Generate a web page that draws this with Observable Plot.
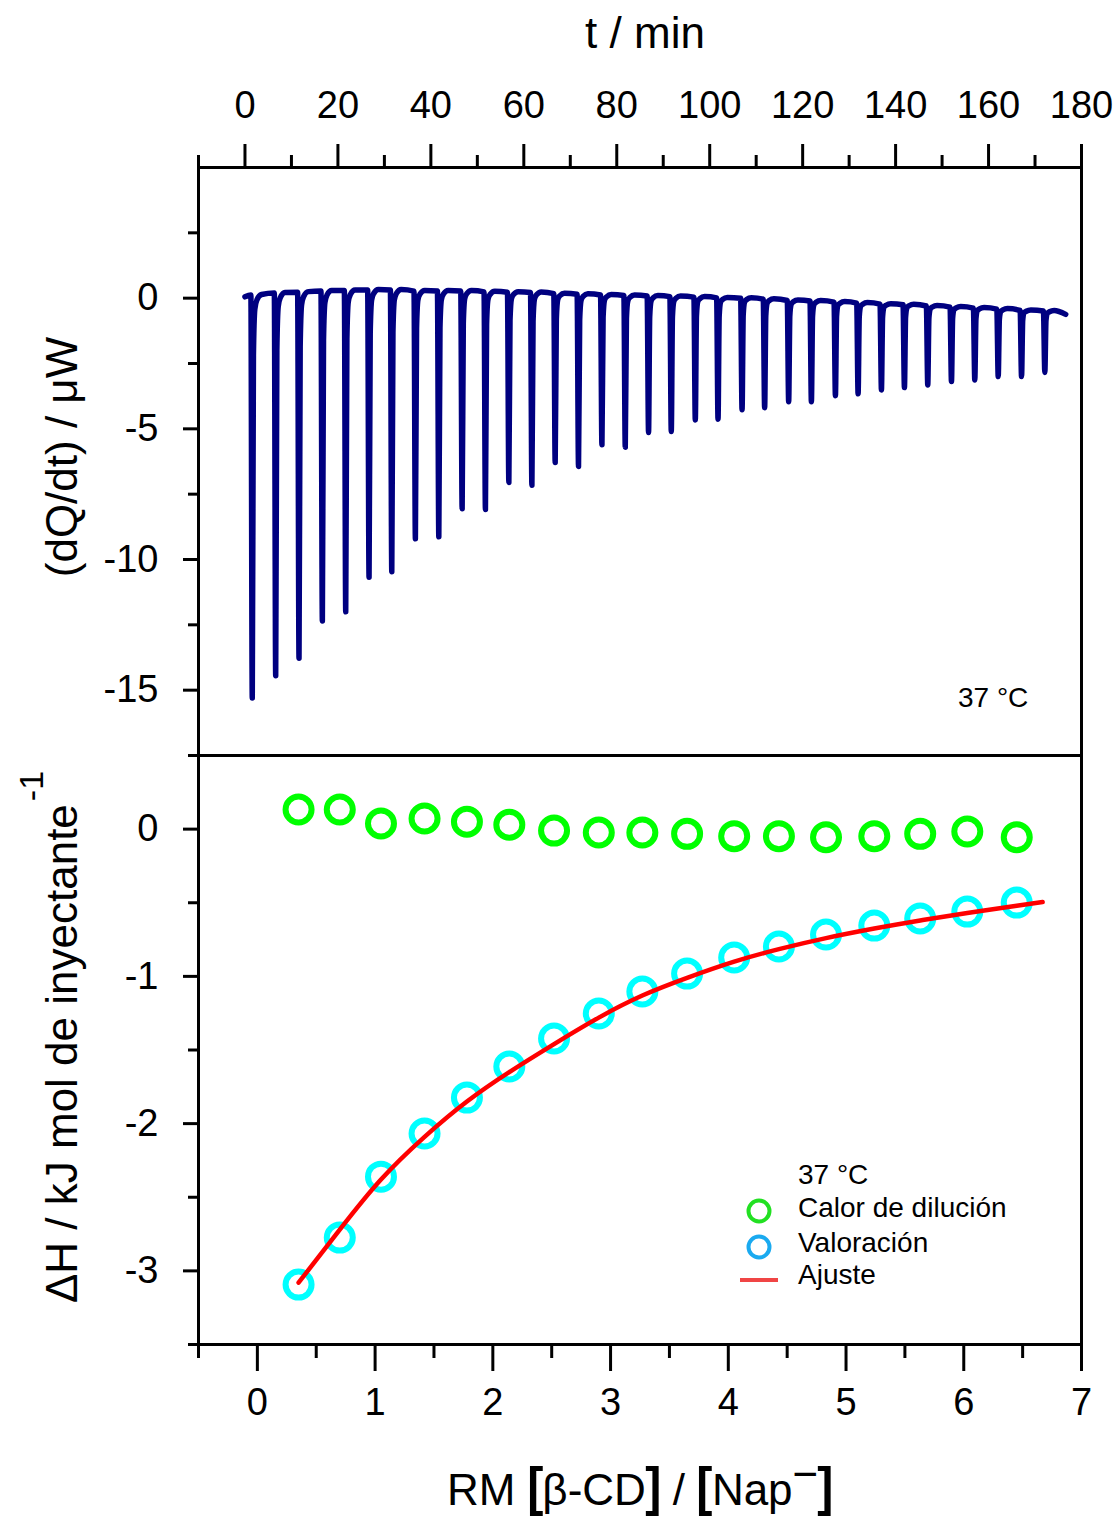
<!DOCTYPE html>
<html>
<head>
<meta charset="utf-8">
<script src="https://cdn.jsdelivr.net/npm/d3@7"></script>
<script src="https://cdn.jsdelivr.net/npm/@observablehq/plot@0.6"></script>
<style>
  body { margin: 0; background: #fff; }
  #wrap { position: relative; width: 1120px; height: 1519px; font-family: "Liberation Sans", Arial, sans-serif; color: #000; overflow: hidden; }
  .t { position: absolute; white-space: nowrap; }
  .plot-svg { position: absolute; left: 0; }
</style>
</head>
<body>
<div id="wrap"></div>
<script>
// ---------- Top panel: thermogram ----------
const injTime = [1.57, 6.61, 11.63, 16.65, 21.68, 26.70, 31.59, 36.67, 41.71, 46.73,
  51.74, 56.78, 61.74, 66.75, 71.77, 76.81, 81.83, 86.84, 91.73, 96.90,
  101.79, 106.96, 111.82, 116.99, 121.88, 127.05, 131.93, 136.95, 141.90, 146.92,
  152.02, 157.04, 162.08, 167.10, 172.11];
const injMin = [-15.3, -14.45, -13.78, -12.35, -12.0, -10.68, -10.47, -9.21, -9.13, -8.06,
  -8.09, -7.05, -7.16, -6.29, -6.44, -5.61, -5.70, -5.14, -5.10, -4.66,
  -4.63, -4.27, -4.19, -3.96, -3.96, -3.73, -3.66, -3.51, -3.42, -3.32,
  -3.19, -3.13, -3.0, -3.0, -2.84];
const injBase = [0.12, 0.2, 0.23, 0.27, 0.29, 0.31, 0.31, 0.27, 0.27, 0.27,
  0.24, 0.23, 0.22, 0.17, 0.15, 0.12, 0.1, 0.08, 0.06, 0.04,
  0.01, 0.0, -0.04, -0.09, -0.11, -0.15, -0.19, -0.23, -0.25, -0.3,
  -0.34, -0.38, -0.42, -0.47, -0.49];
const traceStart = {t: 0, v: 0.05};
const traceEnd = {t: 176.6, v: -0.62};

// ---------- Bottom panel: heats ----------
const molarRatio = [0.35, 0.70, 1.05, 1.42, 1.78, 2.14, 2.52, 2.90, 3.27, 3.65, 4.05, 4.43, 4.83, 5.24, 5.63, 6.03, 6.45];
const dilutionHeat = [0.133, 0.133, 0.038, 0.072, 0.05, 0.03, -0.01, -0.023, -0.023, -0.032, -0.048, -0.048, -0.055, -0.048, -0.032, -0.016, -0.055];
const titrationHeat = [-3.093, -2.774, -2.36, -2.067, -1.823, -1.612, -1.422, -1.252, -1.103, -0.981, -0.872, -0.797, -0.716, -0.655, -0.607, -0.56, -0.499];
const fitRatio = [0.35, 0.70, 1.05, 1.42, 1.78, 2.14, 2.52, 2.90, 3.27, 3.65, 4.05, 4.43, 4.83, 5.24, 5.63, 6.03, 6.45, 6.67];
const fitHeat = [-3.08, -2.72, -2.38, -2.09, -1.85, -1.65, -1.46, -1.28, -1.13, -1.01, -0.90, -0.815, -0.74, -0.675, -0.62, -0.57, -0.52, -0.495];

// ---------- Ticks ----------
const timeMajor = [0, 20, 40, 60, 80, 100, 120, 140, 160, 180];
const timeMinor = [-10, 10, 30, 50, 70, 90, 110, 130, 150, 170];
const powerMajor = [0, -5, -10, -15];
const powerMinor = [2.5, -2.5, -7.5, -12.5];
const ratioMajor = [0, 1, 2, 3, 4, 5, 6, 7];
const ratioMinor = [-0.5, 0.5, 1.5, 2.5, 3.5, 4.5, 5.5, 6.5];
const heatMajor = [0, -1, -2, -3];
const heatMinor = [0.5, -0.5, -1.5, -2.5, -3.5];

// ---------- Build tables ----------
const trace = [traceStart];
injTime.forEach((t, i) => {
  const b = injBase[i], d = injMin[i] - b;
  trace.push({t: t - 0.3, v: b});
  trace.push({t: t, v: injMin[i]});
  trace.push({t: t + 0.25, v: b + 0.15 * d});
  trace.push({t: t + 0.55, v: b + 0.035 * d});
  trace.push({t: t + 1.0, v: b + 0.012 * d});
  trace.push({t: t + 2.0, v: b + 0.02});
});
trace.push(traceEnd);

const dilution = molarRatio.map((r, i) => ({r, h: dilutionHeat[i]}));
const titration = molarRatio.map((r, i) => ({r, h: titrationHeat[i]}));
const fit = fitRatio.map((r, i) => ({r, h: fitHeat[i]}));

const fmt = d => String(d);
const blank = () => "";
const FONT = "'Liberation Sans', Arial, sans-serif";
const TICKFS = 38;

const wrap = document.getElementById("wrap");

const topPlot = Plot.plot({
  width: 1120, height: 757,
  marginLeft: 198, marginRight: 39, marginTop: 167, marginBottom: 2,
  style: {fontFamily: FONT, fontSize: TICKFS + "px", overflow: "visible", background: "transparent", color: "#000"},
  x: {domain: [-10, 180]},
  y: {domain: [-17.5, 5]},
  marks: [
    Plot.axisX(timeMajor, {anchor: "top", tickSize: 24, tickPadding: 26, tickFormat: fmt, strokeWidth: 3, fontSize: TICKFS, label: null}),
    Plot.axisX(timeMinor, {anchor: "top", tickSize: 13, tickFormat: blank, strokeWidth: 3, label: null}),
    Plot.axisY(powerMajor, {anchor: "left", tickSize: 15, tickPadding: 25, tickFormat: fmt, strokeWidth: 3, fontSize: TICKFS, label: null}),
    Plot.axisY(powerMinor, {anchor: "left", tickSize: 10, tickFormat: blank, strokeWidth: 3, label: null}),
    Plot.line(trace, {x: "t", y: "v", stroke: "#000080", strokeWidth: 5.5, curve: "monotone-x", strokeLinejoin: "round", strokeLinecap: "round"}),
    Plot.frame({stroke: "#000", strokeWidth: 3})
  ]
});
topPlot.classList.add("plot-svg");
topPlot.style.top = "0px";
wrap.appendChild(topPlot);

const bottomPlot = Plot.plot({
  width: 1120, height: 766,
  marginLeft: 198, marginRight: 39, marginTop: 2, marginBottom: 175,
  style: {fontFamily: FONT, fontSize: TICKFS + "px", overflow: "visible", background: "transparent", color: "#000"},
  x: {domain: [-0.5, 7]},
  y: {domain: [-3.5, 0.5]},
  marks: [
    Plot.axisX(ratioMajor, {anchor: "bottom", tickSize: 27, tickPadding: 17, tickFormat: fmt, strokeWidth: 3, fontSize: TICKFS, label: null}),
    Plot.axisX(ratioMinor, {anchor: "bottom", tickSize: 14, tickFormat: blank, strokeWidth: 3, label: null}),
    Plot.axisY(heatMajor, {anchor: "left", tickSize: 15, tickPadding: 25, tickFormat: fmt, strokeWidth: 3, fontSize: TICKFS, label: null}),
    Plot.axisY(heatMinor, {anchor: "left", tickSize: 10, tickFormat: blank, strokeWidth: 3, label: null}),
    Plot.dot(dilution, {x: "r", y: "h", r: 13, stroke: "#00ff00", strokeWidth: 6, fill: "none"}),
    Plot.dot(titration, {x: "r", y: "h", r: 13, stroke: "#00ffff", strokeWidth: 6, fill: "none"}),
    Plot.line(fit, {x: "r", y: "h", stroke: "#ff0000", strokeWidth: 4.5, curve: "natural", strokeLinecap: "round"}),
    Plot.frame({stroke: "#000", strokeWidth: 3})
  ]
});
bottomPlot.classList.add("plot-svg");
bottomPlot.style.top = "753px";
wrap.appendChild(bottomPlot);

// ---------- Text overlays ----------
function addText(html, {left, baseline, fs, anchor = "start", rotate = false, cx, cy}) {
  const d = document.createElement("div");
  d.className = "t";
  d.innerHTML = html;
  d.style.fontSize = fs + "px";
  d.style.lineHeight = fs + "px";
  if (rotate) {
    d.style.left = cx + "px";
    d.style.top = cy + "px";
    d.style.transform = "translate(-50%, -50%) rotate(-90deg)";
  } else {
    d.style.top = (baseline - 0.8465 * fs) + "px";
    d.style.left = left + "px";
    if (anchor === "middle") d.style.transform = "translateX(-50%)";
  }
  wrap.appendChild(d);
  return d;
}
const TFS = 44;
addText("t / min", {left: 645, baseline: 48, fs: TFS, anchor: "middle"});
addText("(dQ/dt) / μW", {rotate: true, cx: 77 - 0.3465 * TFS, cy: 457, fs: TFS});
addText('ΔH / kJ mol de inyectante<span style="font-size:34px;position:relative;top:-34px;margin-left:3px">-1</span>',
  {rotate: true, cx: 78 - 0.3465 * TFS, cy: 1037, fs: TFS});
const br = s => `<span style="display:inline-block;transform:translateY(-3px) scale(1.1,1.22);font-weight:bold">${s}</span>`;
addText(`RM ${br("[")}β-CD${br("]")} / ${br("[")}Nap<span style="position:relative;top:-0.36em">−</span>${br("]")}`,
  {left: 640, baseline: 1505, fs: TFS, anchor: "middle"});

addText("37 °C", {left: 958, baseline: 708, fs: 28});

// legend
addText("37 °C", {left: 798, baseline: 1185, fs: 28});
addText("Calor de dilución", {left: 798, baseline: 1218, fs: 28});
addText("Valoración", {left: 798, baseline: 1253, fs: 28});
addText("Ajuste", {left: 798, baseline: 1285, fs: 28});
const leg = document.createElementNS("http://www.w3.org/2000/svg", "svg");
leg.setAttribute("width", "60"); leg.setAttribute("height", "100");
leg.style.position = "absolute"; leg.style.left = "730px"; leg.style.top = "1190px";
leg.innerHTML = `
  <circle cx="29" cy="21" r="10.5" fill="none" stroke="#22e022" stroke-width="4"/>
  <circle cx="29" cy="57" r="10.5" fill="none" stroke="#1aaaf0" stroke-width="4"/>
  <line x1="10" x2="48" y1="90" y2="90" stroke="#f04545" stroke-width="4"/>`;
wrap.appendChild(leg);
</script>
</body>
</html>
